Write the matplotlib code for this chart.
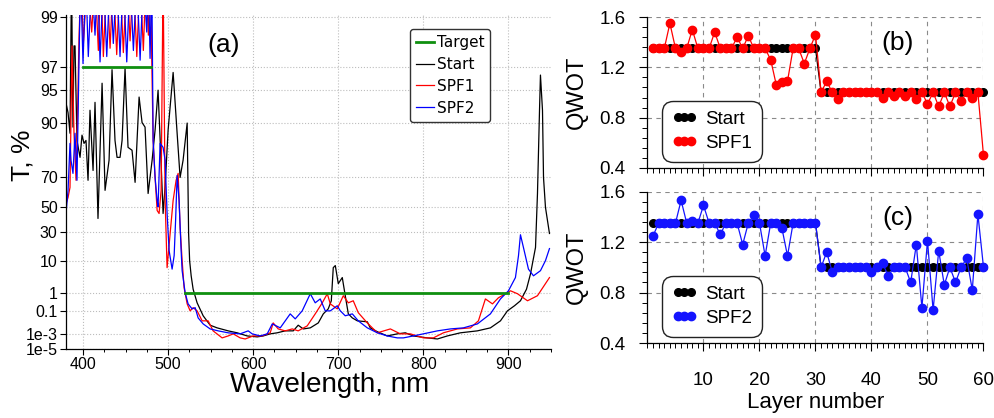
import numpy as np
import matplotlib
matplotlib.use("Agg")
from matplotlib import pyplot as plt
from matplotlib.ticker import FixedLocator, MultipleLocator, NullLocator

plt.rcParams['font.family'] = ['Liberation Sans', 'DejaVu Sans']

# ---- (a) transmittance spectra, T in %
start_wl = [380.0, 382.4, 384.7, 386.5, 388.2, 389.4, 390.6, 392.9, 396.5, 398.8,
            401.2, 403.5, 405.9, 408.2, 411.8, 414.1, 417.6, 422.4, 425.9, 430.6,
            434.1, 437.6, 440.0, 443.5, 445.9, 449.4, 452.9, 457.6, 461.2, 465.9,
            469.4, 472.9, 476.5, 481.2, 484.7, 488.2, 491.8, 494.1, 496.5, 500.0,
            505.9, 510.6, 514.1, 517.6, 522.4, 524.1, 525.3, 527.1, 529.4, 534.1,
            541.2, 549.4, 557.6, 570.6, 581.2, 592.9, 604.7, 611.8, 620.0, 628.2,
            637.6, 647.1, 652.9, 658.8, 667.1, 676.5, 682.4, 688.2, 691.8, 694.1,
            696.5, 700.0, 704.7, 708.2, 711.8, 716.5, 722.4, 734.1, 737.6, 745.9,
            757.6, 769.4, 778.8, 788.2, 804.7, 816.5, 828.2, 843.5, 863.5, 878.8,
            890.6, 898.8, 907.1, 914.1, 921.2, 925.9, 931.8, 934.1, 936.5, 937.6,
            940.0, 941.2, 943.5, 948.2]
start_T = [93.4, 91.9, 87.5, 99.6, 89.0, 98.1, 98.1, 85.5, 79.6, 87.0,
           84.6, 85.5, 68.4, 92.3, 73.7, 93.5, 41.2, 95.7, 62.2, 78.4,
           96.8, 85.5, 79.6, 79.6, 85.5, 96.9, 83.3, 82.3, 67.2, 94.2,
           90.0, 89.0, 60.1, 78.4, 88.3, 95.0, 77.0, 45.2, 65.0, 88.3,
           96.6, 87.5, 70.0, 78.4, 89.9, 29.0, 10.4, 4.2, 1.4, 0.31,
           0.045, 0.0075, 0.0042, 0.0021, 0.0013, 5.8e-4, 4.5e-4, 5.8e-4, 0.0010, 0.0013,
           0.0021, 0.0021, 0.0075, 0.0033, 0.0042, 0.012, 0.062, 0.135, 0.40, 7.1,
           8.0, 2.3, 3.7, 0.72, 0.062, 0.031, 0.018, 0.015, 0.0042, 0.0017,
           5.8e-4, 0.0010, 0.0013, 5.8e-4, 3.4e-4, 2.5e-4, 5.8e-4, 0.0013, 0.0021, 0.0042,
           0.018, 0.10, 0.21, 0.40, 1.4, 4.8, 18.5, 60.0, 92.3, 96.4,
           92.3, 70.0, 50.0, 29.0]

spf1_wl = [380.0, 382.4, 384.7, 387.1, 389.4, 391.8, 392.9, 395.3, 397.6, 400.4,
           405.3, 410.2, 414.1, 418.0, 420.9, 423.9, 427.9, 431.8, 435.6, 439.6,
           443.5, 447.4, 451.4, 455.3, 459.2, 463.2, 467.1, 470.9, 474.1, 476.8,
           479.4, 480.8, 482.4, 484.7, 487.1, 489.4, 491.8, 494.1, 496.5, 498.8,
           502.4, 505.9, 509.4, 511.8, 514.1, 516.5, 518.8, 522.4, 525.9, 529.4,
           534.1, 540.0, 547.1, 552.9, 563.5, 570.6, 576.5, 584.7, 590.6, 600.0,
           610.6, 620.0, 623.5, 629.4, 637.6, 645.9, 652.9, 663.5, 672.9, 681.2,
           687.1, 690.6, 698.8, 705.9, 711.8, 717.6, 723.5, 734.1, 745.9, 761.2,
           772.9, 784.7, 800.0, 811.8, 823.5, 840.0, 855.3, 864.7, 872.9, 881.2,
           888.2, 898.8, 902.4, 910.6, 922.4, 934.1, 948.2]
spf1_T = [52.8, 57.3, 64.1, 98.1, 87.5, 68.4, 85.5, 98.4, 99.6, 98.2,
          99.6, 98.6, 99.6, 97.9, 99.6, 97.6, 99.6, 98.0, 99.6, 97.7,
          99.6, 97.8, 99.6, 98.3, 99.6, 97.6, 99.6, 97.9, 99.6, 98.5,
          99.6, 97.4, 85.5, 70.0, 47.6, 45.2, 62.2, 99.6, 55.2, 7.1,
          29.0, 55.2, 68.4, 72.2, 34.0, 10.4, 1.6, 0.27, 0.10, 0.16,
          0.10, 0.018, 0.018, 0.0021, 3.4e-4, 5.8e-4, 0.0010, 3.4e-4, 2.5e-4, 5.8e-4,
          5.8e-4, 0.0013, 0.012, 0.0033, 0.0021, 0.0033, 0.0021, 0.0065, 0.062, 0.31,
          0.89, 0.27, 0.135, 0.72, 0.31, 0.40, 0.075, 0.012, 0.0013, 0.0033,
          0.0010, 0.0010, 3.4e-4, 3.4e-4, 0.0013, 0.0033, 0.0042, 0.018, 0.50, 0.27,
          0.57, 1.0, 1.2, 0.89, 0.40, 0.72, 3.7]

spf2_wl = [380.0, 382.4, 384.7, 385.9, 388.2, 390.6, 392.9, 395.3, 397.1, 400.0,
           403.2, 406.2, 410.2, 414.1, 417.1, 420.0, 423.9, 427.9, 431.8, 435.6,
           439.6, 443.5, 447.4, 451.4, 455.3, 459.2, 463.2, 467.1, 470.9, 474.9,
           476.8, 478.8, 480.8, 482.4, 484.7, 487.1, 488.2, 490.6, 494.1, 496.5,
           498.8, 501.2, 504.7, 507.1, 508.8, 510.6, 512.9, 515.3, 516.5, 520.0,
           523.5, 528.2, 531.8, 535.3, 541.2, 549.4, 558.8, 570.6, 584.7, 594.1,
           598.8, 608.2, 616.5, 622.4, 631.8, 643.5, 649.4, 657.6, 667.1, 672.9,
           678.8, 684.7, 690.6, 698.8, 702.4, 708.2, 716.5, 723.5, 734.1, 745.9,
           757.6, 769.4, 776.5, 788.2, 800.0, 816.5, 831.8, 847.1, 863.5, 878.8,
           890.6, 900.0, 908.2, 911.8, 914.1, 917.6, 923.5, 929.4, 937.6, 943.5,
           948.2]
spf2_T = [45.2, 62.2, 84.6, 78.4, 72.2, 87.5, 68.4, 97.4, 99.6, 97.2,
          99.6, 97.6, 99.6, 98.5, 99.6, 97.3, 99.6, 97.6, 99.6, 98.2,
          99.6, 97.6, 99.6, 97.3, 99.6, 97.9, 99.6, 97.4, 99.6, 98.6,
          99.6, 97.5, 99.6, 85.5, 70.0, 55.2, 50.5, 84.6, 83.3, 78.4,
          45.2, 16.3, 6.5, 13.2, 39.5, 71.1, 55.2, 16.3, 5.9, 1.0,
          0.27, 0.135, 0.16, 0.031, 0.0098, 0.0033, 0.0021, 0.0013, 0.0010, 0.0021,
          0.0010, 5.8e-4, 0.0010, 0.0098, 0.0042, 0.062, 0.026, 0.10, 0.89, 0.31,
          0.50, 0.10, 0.10, 0.21, 0.10, 0.045, 0.062, 0.018, 0.0042, 0.0013,
          5.8e-4, 3.4e-4, 3.4e-4, 5.8e-4, 0.0010, 0.0021, 0.0033, 0.0042, 0.0098, 0.062,
          0.50, 1.2, 3.7, 13.2, 28.0, 18.5, 6.5, 4.2, 5.9, 10.4,
          17.7]

target_pass_wl = [400, 480]
target_pass_T = [97, 97]
target_stop_wl = [520, 900]
target_stop_T = [1, 1]

t_ticks = [1e-5, 1e-3, 0.1, 1, 10, 30, 50, 70, 90, 95, 97, 99]
t_tick_labels = ['1e-5', '1e-3', '0.1', '1', '10', '30', '50', '70', '90', '95', '97', '99']

# ---- (b), (c) layer thicknesses in QWOT
layers = list(range(1, 61))
qwot_start = [1.35, 1.35, 1.35, 1.35, 1.35, 1.35, 1.35, 1.35, 1.35, 1.35,
              1.35, 1.35, 1.35, 1.35, 1.35, 1.35, 1.35, 1.35, 1.35, 1.35,
              1.35, 1.35, 1.35, 1.35, 1.35, 1.35, 1.35, 1.35, 1.35, 1.35,
              1.00, 1.00, 1.00, 1.00, 1.00, 1.00, 1.00, 1.00, 1.00, 1.00,
              1.00, 1.00, 1.00, 1.00, 1.00, 1.00, 1.00, 1.00, 1.00, 1.00,
              1.00, 1.00, 1.00, 1.00, 1.00, 1.00, 1.00, 1.00, 1.00, 1.00]
qwot_spf1 = [1.35, 1.35, 1.35, 1.55, 1.35, 1.32, 1.35, 1.50, 1.35, 1.35,
             1.35, 1.48, 1.35, 1.35, 1.35, 1.44, 1.35, 1.45, 1.35, 1.35,
             1.35, 1.26, 1.06, 1.08, 1.09, 1.35, 1.35, 1.23, 1.35, 1.46,
             1.00, 1.09, 1.00, 0.95, 1.00, 1.00, 1.00, 1.00, 1.00, 1.00,
             1.00, 0.96, 1.00, 0.97, 1.00, 0.97, 1.00, 0.95, 1.00, 0.91,
             1.00, 0.89, 1.00, 0.89, 1.00, 0.93, 1.00, 0.96, 1.00, 0.50]
qwot_spf2 = [1.25, 1.35, 1.35, 1.35, 1.35, 1.53, 1.35, 1.37, 1.35, 1.49,
             1.35, 1.35, 1.26, 1.35, 1.35, 1.35, 1.18, 1.35, 1.41, 1.35,
             1.09, 1.35, 1.35, 1.31, 1.09, 1.35, 1.35, 1.35, 1.35, 1.35,
             1.00, 1.12, 0.96, 1.00, 1.00, 1.00, 1.00, 1.00, 1.00, 0.96,
             1.00, 1.03, 0.93, 1.00, 1.00, 1.00, 0.88, 1.18, 0.68, 1.21,
             0.66, 1.13, 0.86, 1.00, 0.88, 1.00, 1.07, 0.82, 1.42, 1.00]


def t_fwd(t):
    t = np.clip(np.asarray(t, dtype=float), 1e-9, 99.99999)
    return -np.log10(-np.log10(t / 100.0))


def t_inv(v):
    return 100.0 * 10.0 ** (-(10.0 ** (-np.asarray(v, dtype=float))))


W, H = 995.0, 418.0


def box(l, t, r, b):
    return [l / W, 1 - b / H, (r - l) / W, (b - t) / H]


fig = plt.figure(figsize=(W / 100, H / 100), dpi=100)

# ---------------- panel (a)
ax = fig.add_axes(box(66, 14.5, 551, 349))
ax.set_yscale('function', functions=(t_fwd, t_inv))
green = '#0f8f0f'
ax.plot(target_pass_wl, target_pass_T, color=green, lw=2.0, label='Target', zorder=4)
ax.plot(target_stop_wl, target_stop_T, color=green, lw=2.0, zorder=4)
ax.plot(start_wl, start_T, color='black', lw=0.9, label='Start')
ax.plot(spf1_wl, spf1_T, color='#ff0000', lw=0.9, label='SPF1')
ax.plot(spf2_wl, spf2_T, color='#0000ff', lw=0.9, label='SPF2')

ax.set_xlim(380, 950)
ax.set_ylim(1e-5, 99.05)
ax.yaxis.set_major_locator(FixedLocator(t_ticks))
ax.set_yticklabels(t_tick_labels)
ax.yaxis.set_minor_locator(NullLocator())
ax.xaxis.set_major_locator(FixedLocator([400, 500, 600, 700, 800, 900]))
ax.xaxis.set_minor_locator(MultipleLocator(25))
for s in ['top', 'right']:
    ax.spines[s].set_visible(False)
for s in ['left', 'bottom']:
    ax.spines[s].set_linewidth(0.9)
ax.set_axisbelow(True)
ax.grid(True, which='major', ls=':', color='#bdbdbd', lw=0.8)
ax.tick_params(which='major', direction='out', length=4, width=0.8, labelsize=11.5, pad=2)
ax.tick_params(which='minor', direction='out', length=2.5, width=0.7)

ax.set_ylabel('T, %', fontsize=19)
ax.yaxis.set_label_coords(-0.065, 0.58)
ax.set_xlabel('Wavelength, nm', fontsize=20)
ax.xaxis.set_label_coords(0.544, -0.07)
ax.text(0.326, 0.909, '(a)', transform=ax.transAxes, fontsize=19, ha='center', va='center')

leg = ax.legend(loc='upper left', bbox_to_anchor=(0.709, 0.957), borderaxespad=0,
                prop={'family': 'DejaVu Sans', 'size': 11}, handlelength=1.2,
                handletextpad=0.15, labelspacing=0.45, borderpad=0.4,
                fancybox=True, framealpha=1, edgecolor='#333333')
leg.get_frame().set_linewidth(1.0)


# ---------------- panels (b) and (c)
def qwot_panel(rect, values, color, name, letter, bottom_labels):
    axq = fig.add_axes(rect)
    axq.plot(layers, qwot_start, color='black', marker='o', ms=5.5, lw=0.9,
             label='Start', clip_on=False)
    axq.plot(layers, values, color=color, marker='o', ms=6, lw=0.9,
             label=name, clip_on=False)
    axq.set_xlim(0, 60)
    axq.set_ylim(0.4, 1.6)
    axq.xaxis.set_major_locator(FixedLocator([10, 20, 30, 40, 50, 60]))
    axq.xaxis.set_minor_locator(MultipleLocator(1))
    axq.yaxis.set_major_locator(FixedLocator([0.4, 0.8, 1.2, 1.6]))
    axq.yaxis.set_minor_locator(MultipleLocator(0.08))
    axq.set_yticklabels(['0.4', '0.8', '1.2', '1.6'])
    for s in ['top', 'right']:
        axq.spines[s].set_visible(False)
    for s in ['left', 'bottom']:
        axq.spines[s].set_linewidth(0.9)
    axq.set_axisbelow(True)
    axq.grid(True, which='major', ls=(0, (4, 4)), color='#8a8a8a', lw=0.8)
    axq.tick_params(which='major', direction='out', length=6, width=0.8,
                    labelsize=13.5, pad=10)
    axq.tick_params(which='minor', direction='out', length=3.5, width=0.7)
    axq.tick_params(axis='x', which='major', pad=15, labelbottom=bottom_labels)
    axq.set_ylabel('QWOT', fontsize=17)
    axq.yaxis.set_label_coords(-0.177, 0.5)
    axq.text(0.745, 0.828, letter, transform=axq.transAxes, fontsize=19,
             ha='center', va='center')
    lg = axq.legend(loc='lower left', bbox_to_anchor=(0.043, 0.04), borderaxespad=0,
                    fontsize=13.5, numpoints=3, handlelength=1.3, handletextpad=0.45,
                    labelspacing=0.35, borderpad=0.55, fancybox=True,
                    framealpha=1, edgecolor='#222222')
    lg.get_frame().set_linewidth(1.0)
    lg.get_frame().set_boxstyle('round,pad=0,rounding_size=0.6')
    return axq


axb = qwot_panel(box(647.5, 17, 983.5, 168), qwot_spf1, '#ff0000', 'SPF1', '(b)', False)
axc = qwot_panel(box(647.5, 191.5, 983.5, 343), qwot_spf2, '#1414ff', 'SPF2', '(c)', True)
axc.set_xlabel('Layer number', fontsize=16)
axc.xaxis.set_label_coords(0.5, -0.322)

fig.savefig('out.png', dpi=100)
